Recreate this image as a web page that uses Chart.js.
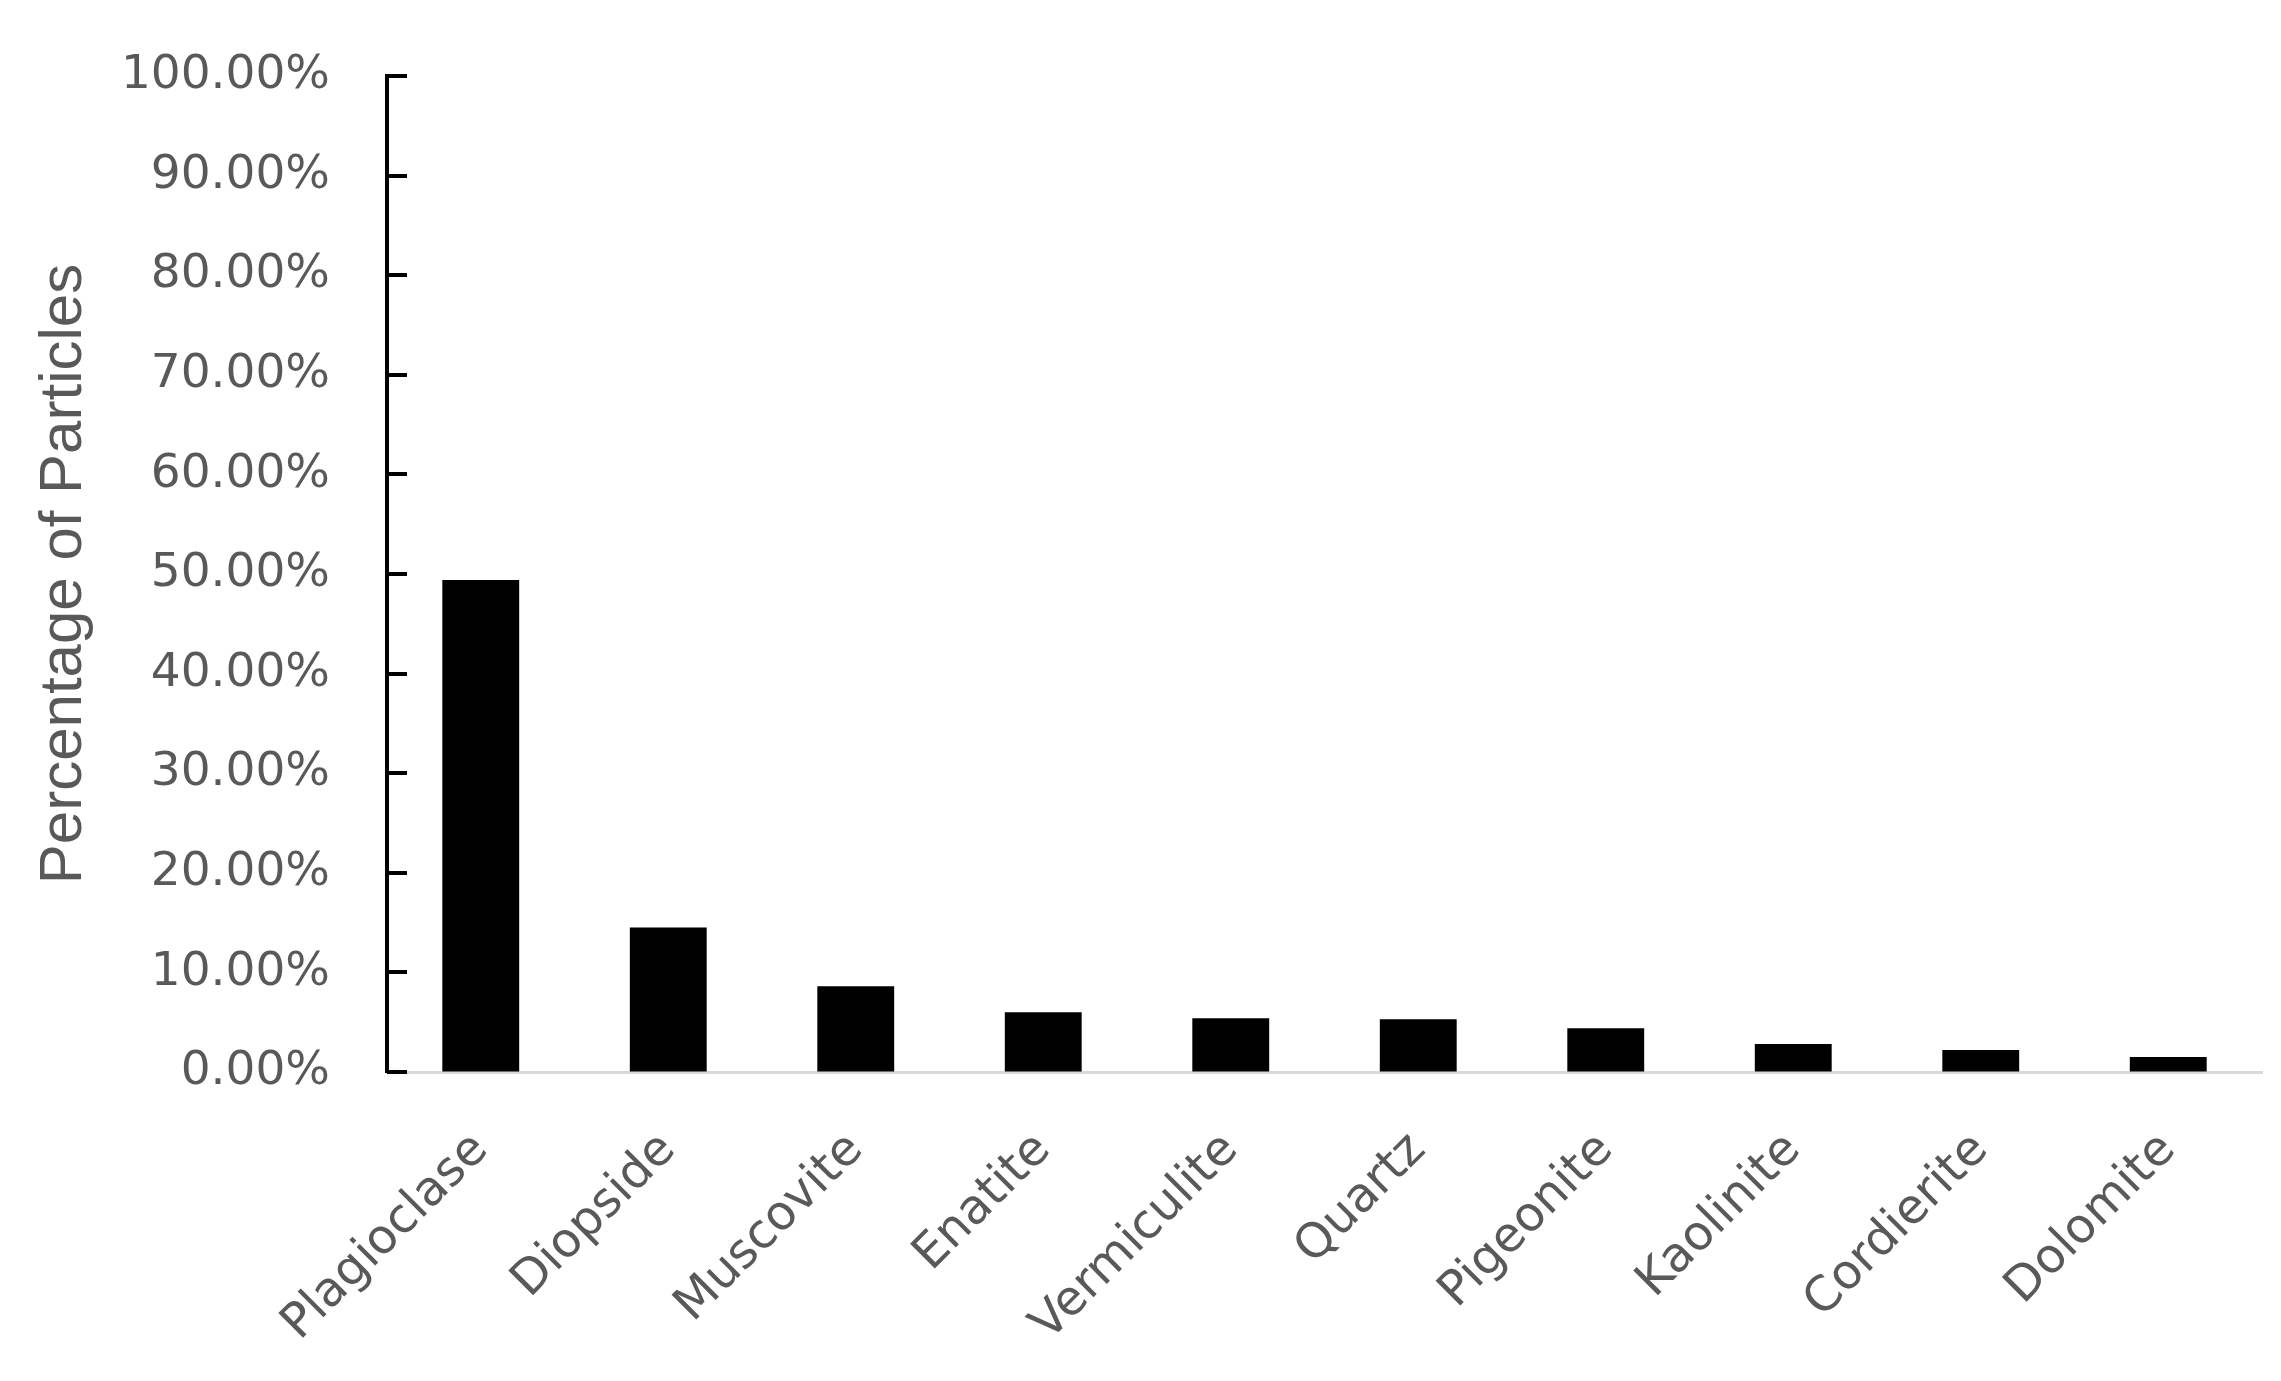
<!DOCTYPE html>
<html>
<head>
<meta charset="utf-8">
<script src="https://cdn.jsdelivr.net/npm/chart.js@4.4.1/dist/chart.umd.min.js"></script>
<style>
  html, body { margin: 0; padding: 0; background: #fff; }
  #wrap { width: 2281px; height: 1381px; }
</style>
</head>
<body>
<div id="wrap"><canvas id="chart"></canvas></div>
<script>
// minerals, in the order they appear on the x axis
const minerals = ['Plagioclase', 'Diopside', 'Muscovite', 'Enatite', 'Vermiculite',
  'Quartz', 'Pigeonite', 'Kaolinite', 'Cordierite', 'Dolomite'];
// percentage of particles for each mineral
const percentages = [49.4, 14.5, 8.6, 6.0, 5.4, 5.3, 4.4, 2.8, 2.2, 1.5];
// y axis range and steps
const yMin = 0;
const yMax = 100;
const yStep = 10;

// Excel style tick marks drawn inside the plot area
const insideTicks = {
  id: 'insideTicks',
  afterDatasetsDraw(chart) {
    const y = chart.scales.y;
    const ctx = chart.ctx;
    ctx.save();
    ctx.strokeStyle = '#000';
    ctx.lineWidth = 4;
    y.ticks.forEach(t => {
      const py = Math.round(y.getPixelForValue(t.value));
      ctx.beginPath();
      ctx.moveTo(chart.chartArea.left, py);
      ctx.lineTo(chart.chartArea.left + 20, py);
      ctx.stroke();
    });
    ctx.restore();
  }
};

const ctx = document.getElementById('chart').getContext('2d');
new Chart(ctx, {
  type: 'bar',
  data: {
    labels: minerals,
    datasets: [{
      label: 'Percentage of Particles',
      data: percentages,
      backgroundColor: '#000',
      borderWidth: 0,
      categoryPercentage: 1,
      barPercentage: 0.41,
    }],
  },
  options: {
    responsive: true,
    maintainAspectRatio: false,
    animation: false,
    layout: { padding: { top: 76, right: 19, left: 0, bottom: 0 } },
    plugins: {
      legend: { display: false },
      tooltip: { enabled: false },
    },
    scales: {
      x: {
        grid: { display: false, drawTicks: false },
        border: { display: true, color: '#d9d9d9', width: 3 },
        ticks: {
          color: '#595959',
          font: { family: 'DejaVu Sans', size: 48 },
          maxRotation: 45,
          minRotation: 45,
          padding: 50,
          autoSkip: false,
        },
        afterFit(scale) { scale.height = 309; },
      },
      y: {
        min: yMin,
        max: yMax,
        grid: { drawOnChartArea: false, drawTicks: true, tickLength: 47, tickColor: 'rgba(0,0,0,0)' },
        border: { display: true, color: '#000', width: 4 },
        ticks: {
          stepSize: yStep,
          color: '#595959',
          font: { family: 'DejaVu Sans', size: 47 },
          padding: 10,
          callback: (v) => v.toFixed(2) + '%',
        },
        title: {
          display: true,
          text: 'Percentage of Particles',
          color: '#595959',
          font: { family: 'Liberation Sans', size: 60 },
          padding: { top: 28, bottom: 0 },
        },
        afterFit(scale) { scale.width = 387; },
      },
    },
  },
  plugins: [insideTicks],
});
</script>
</body>
</html>
